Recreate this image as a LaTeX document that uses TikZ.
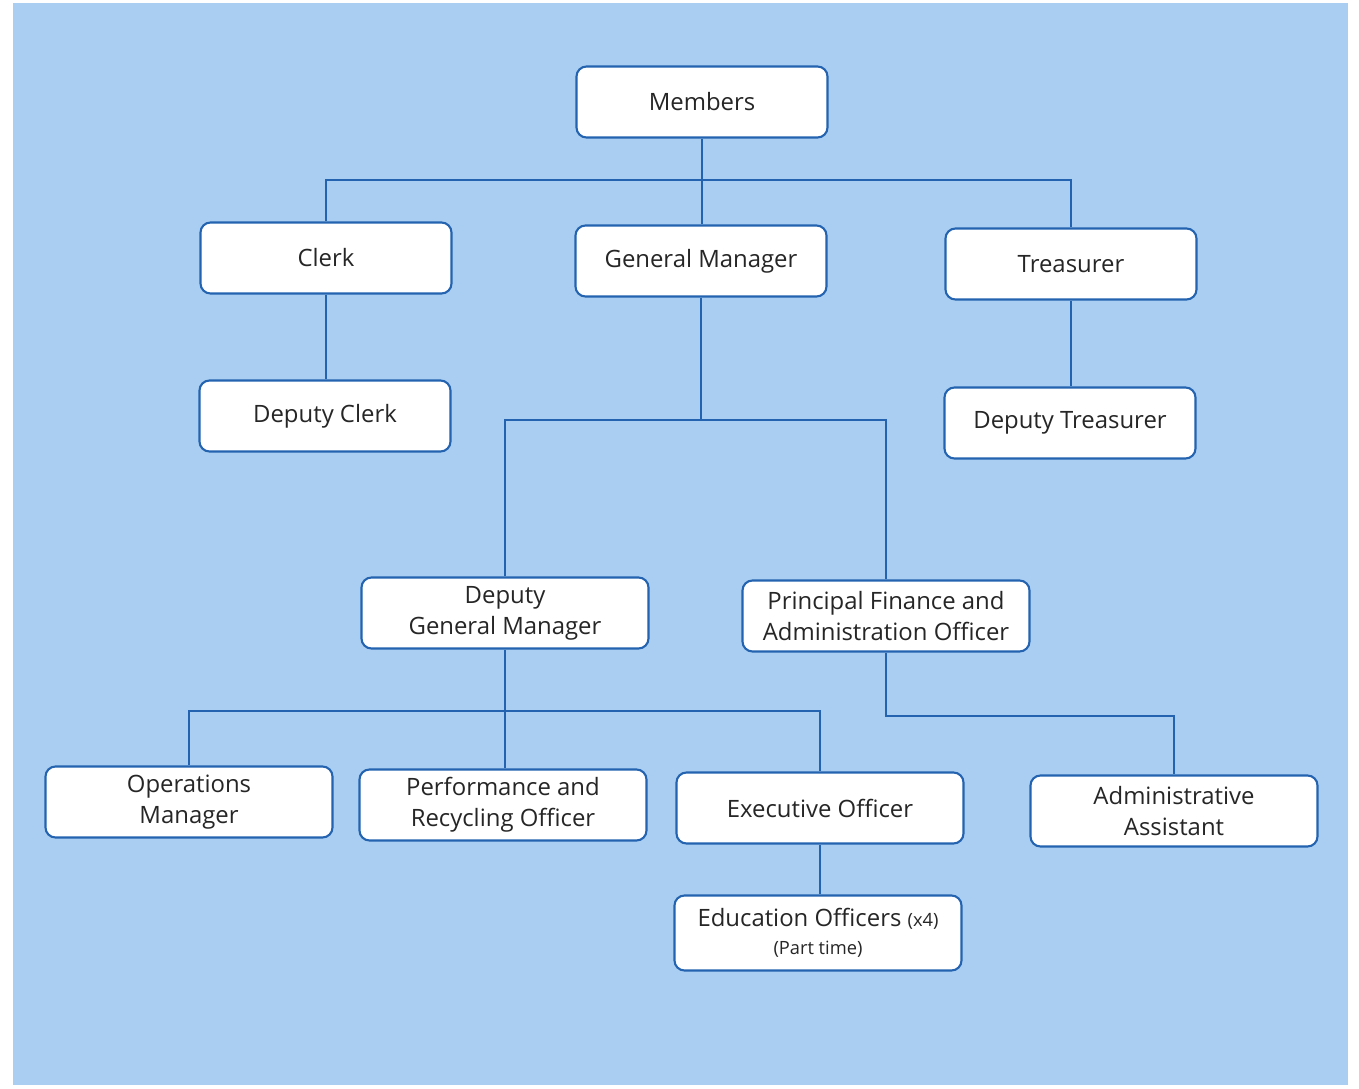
\documentclass[tikz,border=0pt]{standalone}
\usepackage{fontspec}
\setmainfont{Open Sans}
\usepackage{xcolor}
\definecolor{bgblue}{HTML}{A9CEF1}
\definecolor{lineblue}{HTML}{2463B0}
\definecolor{textgrey}{HTML}{262626}
\tikzset{post/.style={draw=lineblue,fill=white,line width=0.6pt,rounded corners=0.1cm,
   minimum width=2.51cm,minimum height=0.71cm,align=center,text=textgrey,
   font=\fontsize{6.8}{8.8}\selectfont,inner sep=1pt},
 widepost/.style={post,minimum width=2.87cm},
 link/.style={draw=lineblue,line width=0.6pt},
 }

\begin{document}
\begin{tikzpicture}
    \useasboundingbox (0,0) rectangle (13.59,-10.89);
    \fill[bgblue] (0.13,-0.03) rectangle (13.48,-10.85);
    % top level
    \node[post] (members) at (7.02,-1.02) {Members};
    \node[post] (clerk) at (3.26,-2.58) {Clerk};
    \node[post] (gm) at (7.01,-2.61) {General Manager};
    \node[post] (treasurer) at (10.71,-2.64) {Treasurer};
    \node[post] (dclerk) at (3.25,-4.16) {Deputy Clerk};
    \node[post] (dtreasurer) at (10.70,-4.23) {Deputy Treasurer};
    % middle
    \node[widepost] (dgm) at (5.05,-6.13) {Deputy\\General Manager};
    \node[widepost] (pfao) at (8.86,-6.16) {Principal Finance and\\Administration Officer};
    % bottom
    \node[widepost] (ops) at (1.89,-8.02) {Operations\\Manager};
    \node[widepost] (perf) at (5.03,-8.05) {Performance and\\Recycling Officer};
    \node[widepost] (exec) at (8.20,-8.08) {Executive Officer};
    \node[widepost] (admin) at (11.74,-8.11) {Administrative\\Assistant};
    \node[widepost,minimum height=0.75cm] (edu) at (8.18,-9.33)
        {Education Officers {\fontsize{5.2}{6}\selectfont(x4)}\\[-1pt]
         {\fontsize{5.2}{6}\selectfont(Part time)}};
    % connectors
    \coordinate (top) at (7.02,-1.80);
    \coordinate (mid) at (7.00,-4.20);
    \coordinate (low) at (5.06,-7.11);
    \draw[link] (members.south) -- (members.south |- gm.north);
    \draw[link] (clerk.north) |- (top) -| (treasurer.north);
    \draw[link] (clerk.south) -- (clerk.south |- dclerk.north);
    \draw[link] (treasurer.south) -- (treasurer.south |- dtreasurer.north);
    \draw[link] (gm.south) -- (gm.south |- mid);
    \draw[link] (dgm.north) |- (mid) -| (pfao.north);
    \draw[link] (dgm.south) -- (dgm.south |- perf.north);
    \draw[link] (ops.north) |- (low) -| (exec.north);
    \draw[link] (pfao.south) -- (pfao.south |- 0,-7.16) -| (admin.north);
    \draw[link] (exec.south) -- (exec.south |- edu.north);
\end{tikzpicture}
\end{document}
